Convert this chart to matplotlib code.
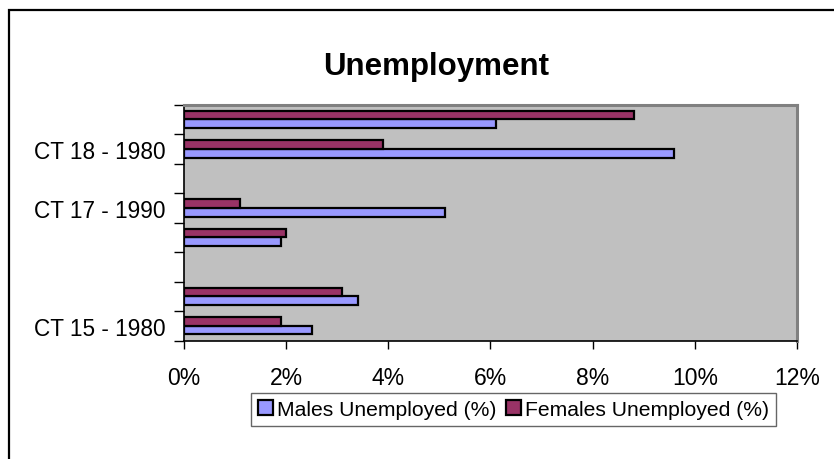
import matplotlib.pyplot as plt
import numpy as np
from matplotlib.patches import Rectangle

plt.rcParams["font.family"] = ["Liberation Sans", "DejaVu Sans"]

# census tract rows, bottom to top (blank rows separate the tracts)
categories = ["CT 15 - 1980", "CT 15 - 1990", "", "CT 17 - 1980",
              "CT 17 - 1990", "", "CT 18 - 1980", "CT 18 - 1990"]
males = [2.5, 3.4, np.nan, 1.9, 5.1, np.nan, 9.6, 6.1]
females = [1.9, 3.1, np.nan, 2.0, 1.1, np.nan, 3.9, 8.8]
x_ticks = [0, 2, 4, 6, 8, 10, 12]

fig = plt.figure(figsize=(8.34, 4.6), dpi=100)
ax = fig.add_axes([0.2206, 0.2572, 0.7350, 0.5130])
ax.set_facecolor("#C0C0C0")

y = np.arange(len(categories)) + 0.5
h = 0.29
ax.barh(y - h / 2, males, height=h, color="#9999FF", edgecolor="black",
        linewidth=1.6, label="Males Unemployed (%)")
ax.barh(y + h / 2, females, height=h, color="#993366", edgecolor="black",
        linewidth=1.6, label="Females Unemployed (%)")

ax.set_xlim(0, 12)
ax.set_ylim(0, len(categories))
ax.set_xticks(x_ticks)
ax.set_xticklabels([f"{v}%" for v in x_ticks], fontsize=16.5)
ax.tick_params(axis="x", length=6, width=1, pad=12)

# tick marks on category boundaries, labels on every other category
ax.set_yticks(np.arange(len(categories) + 1))
ax.set_yticklabels([])
ax.tick_params(axis="y", which="major", length=7, width=1)
ax.set_yticks(y[::2], minor=True)
ax.set_yticklabels(categories[::2], minor=True, fontsize=16.3)
ax.tick_params(axis="y", which="minor", length=0, pad=13)

for side in ("left", "bottom"):
    ax.spines[side].set_color("black")
    ax.spines[side].set_linewidth(1.2)
for side in ("top", "right"):
    ax.spines[side].set_color("#808080")
    ax.spines[side].set_linewidth(2.2)

fig.text(0.5234, 0.8554, "Unemployment", ha="center", va="center",
         fontsize=22.5, fontweight="bold")

leg = fig.legend(loc="center", bbox_to_anchor=(0.6157, 0.1076), ncol=2,
                 fontsize=15.2, frameon=True, fancybox=False,
                 handlelength=0.7, handleheight=0.7, handletextpad=0.2,
                 columnspacing=0.45, borderpad=0.35, borderaxespad=0)
leg.get_frame().set_edgecolor("#404040")
leg.get_frame().set_linewidth(1)

# chart border, running off the right and bottom edges
fig.patches.append(Rectangle((0.0105, -0.1), 1.2, 0.877 + 0.1 + 0.1,
                             transform=fig.transFigure, fill=False,
                             edgecolor="black", linewidth=1.6))

fig.savefig("out.png", dpi=100)
